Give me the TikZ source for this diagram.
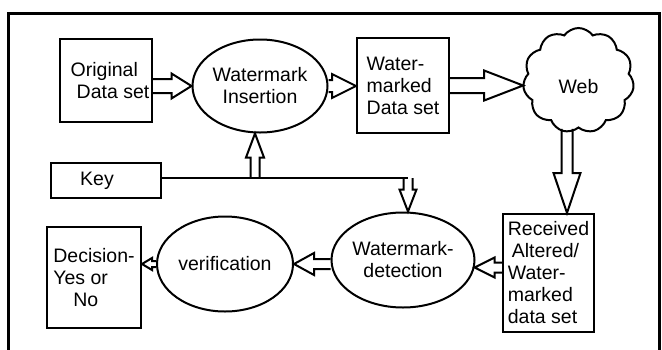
\documentclass[tikz,border=0pt]{standalone}
\usepackage{fontspec}
\setmainfont{Liberation Sans}
\usetikzlibrary{calc,shapes.geometric,shapes.symbols}
% hollow block arrow: from, to, shaft half width, head half width, head length
\newcommand\harrow[5]{%
  \coordinate (hh) at ($(#2)!#5!(#1)$);
  \draw[arrowline] ($(#1)!#3!90:(hh)$) -- ($(hh)!#3!-90:(#1)$) -- ($(hh)!#4!-90:(#1)$)
    -- (#2) -- ($(hh)!#4!90:(#1)$) -- ($(hh)!#3!90:(#1)$) -- ($(#1)!#3!-90:(hh)$);
}
\begin{document}
\begin{tikzpicture}[x=1pt,y=-1pt,
  every node/.style={font=\fontsize{19.5}{22}\selectfont},
  box/.style={draw,line width=2pt,rectangle,inner sep=0pt,align=left},
  oval/.style={draw,line width=2pt,ellipse,inner sep=0pt,align=center},
  arrowline/.style={line width=2pt,line join=miter},
  frame/.style={line width=3pt}]
\useasboundingbox (0,0) rectangle (662,349);
\draw[frame] (8,351) -- (8,13) -- (659,13) -- (659,351);

\node[box,minimum width=92,minimum height=83] (orig) at (106,80.5) {\hspace{8pt}Original\\\hspace{14pt}Data set};
\node[oval,minimum width=135,minimum height=93] (ins) at (260,86) {Watermark\\Insertion\hspace{14pt}};
\node[box,minimum width=92,minimum height=95] (wm) at (403,85.5) {Water-\\marked\\Data set};
\node[draw,line width=2pt,cloud,cloud puffs=11,cloud puff arc=110,aspect=1.05,minimum width=111,minimum height=105,inner sep=0pt] (web) at (578.5,80.5) {\rule{0pt}{27pt}Web\hspace{13pt}};
\node[box,minimum width=91,minimum height=118] (recv) at (548.5,273) {Received\\\hspace{4pt}Altered/\\Water-\\marked\\data set};
\node[oval,minimum width=130,minimum height=95] (det) at (403,260) {Watermark-\\detection};
\node[oval,minimum width=136,minimum height=95] (ver) at (225,264) {verification};
\node[box,minimum width=94,minimum height=101] (dec) at (94,277.5) {Decision-\\Yes or\\\hspace{20pt}No};
\node[box,minimum width=110,minimum height=35] (key) at (106,180.5) {Key\hspace{18pt}};

\coordinate (ku) at (255,178);
\coordinate (kd) at (408,178);
\coordinate (wt) at ($(recv.north)+(18.5,0)$);

\draw[line width=1.6pt] (key.east |- kd) -- (kd);

\harrow{orig.east |- ins.west}{ins.west}{7pt}{12.5pt}{20pt}
\harrow{ins.east}{wm.west |- ins.east}{6pt}{12pt}{24pt}
\harrow{wm.east}{web.west |- wm.east}{7.5pt}{15pt}{39pt}
\harrow{wt |- web.south}{wt}{5.5pt}{13.5pt}{40pt}
\harrow{recv.west |- det.354}{det.354}{5pt}{10pt}{20pt}
\harrow{det.west |- ver.east}{ver.east}{5pt}{11pt}{20pt}
\harrow{ver.west}{dec.east |- ver.west}{3pt}{6pt}{10pt}
\harrow{ku}{ku |- ins.south}{4.5pt}{9pt}{24pt}
\harrow{kd}{kd |- det.north}{4.5pt}{8.5pt}{22pt}
\end{tikzpicture}
\end{document}
